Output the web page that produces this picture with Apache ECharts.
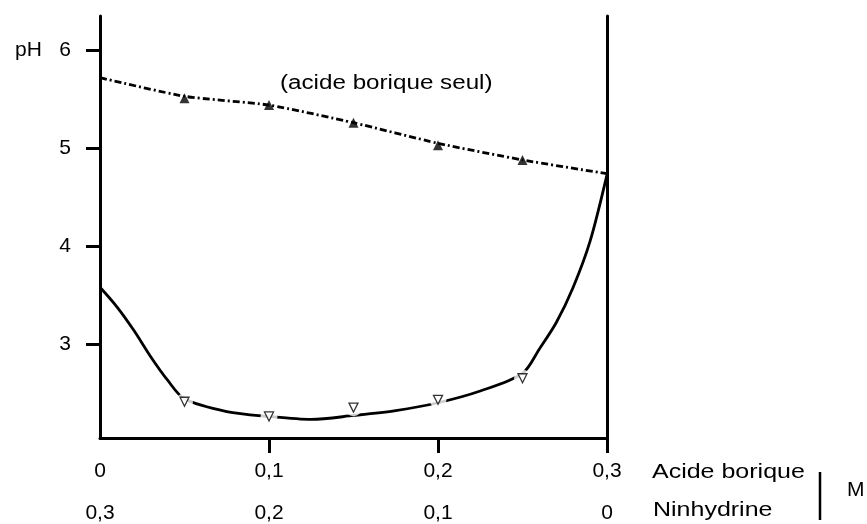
<!DOCTYPE html>
<html>
<head>
<meta charset="utf-8">
<script src="https://cdn.jsdelivr.net/npm/echarts@6/dist/echarts.min.js"></script>
<style>html,body{margin:0;padding:0;background:#fff}#c{width:867px;height:524px}</style>
</head>
<body>
<div id="c"></div>
<script>
// Concentrations (M) of boric acid; ninhydrine = 0.3 - boric acid
const xTicks = [0, 0.1, 0.2, 0.3];
const boricLabels = ['0', '0,1', '0,2', '0,3'];
const ninhydrinLabels = ['0,3', '0,2', '0,1', '0'];
const yTicks = [3, 4, 5, 6];

// Boric acid alone (dashed line + filled triangles)
const aloneLineX = [0, 0.05, 0.1, 0.15, 0.2, 0.25, 0.3];
const aloneLineY = [5.72, 5.53, 5.44, 5.26, 5.05, 4.88, 4.74];
const aloneMarkX = [0.05, 0.1, 0.15, 0.2, 0.25];
const aloneMarkY = [5.51, 5.44, 5.26, 5.03, 4.88];

// Mixture (solid curve + open triangles)
const mixLineX = [0, 0.01, 0.02, 0.03, 0.04, 0.05, 0.075, 0.1, 0.125, 0.15, 0.175, 0.2, 0.225, 0.25, 0.26, 0.27, 0.28, 0.29, 0.3];
const mixLineY = [3.58, 3.38, 3.14, 2.87, 2.63, 2.44, 2.31, 2.26, 2.23, 2.27, 2.32, 2.40, 2.52, 2.70, 2.95, 3.22, 3.58, 4.05, 4.73];
const mixMarkX = [0.05, 0.1, 0.15, 0.2, 0.25];
const mixMarkY = [2.41, 2.26, 2.35, 2.43, 2.65];

const zip = (a, b) => a.map((v, i) => [v, b[i]]);
const FONT = '"Liberation Sans", Arial, Helvetica, sans-serif';

const chart = echarts.init(document.getElementById('c'));
chart.setOption({
  animation: false,
  backgroundColor: '#fff',
  grid: { left: 100, right: 260, top: 16, bottom: 86, containLabel: false },
  xAxis: {
    type: 'value', min: 0, max: 0.3,
    axisLine: { show: true, lineStyle: { color: '#000', width: 3 } },
    axisTick: { show: true, customValues: [0.1, 0.2, 0.3], length: 15, lineStyle: { color: '#000', width: 3 } },
    splitLine: { show: false },
    axisLabel: {
      customValues: xTicks,
      margin: 12,
      formatter: (v) => {
        const i = xTicks.findIndex(t => Math.abs(t - v) < 1e-9);
        return '{a|' + boricLabels[i] + '}\n{a|' + ninhydrinLabels[i] + '}';
      },
      rich: { a: { fontSize: 21, fontFamily: FONT, color: '#000', lineHeight: 42 } }
    }
  },
  yAxis: [{
    type: 'value', min: 2.04, max: 6.35,
    axisLine: { show: true, lineStyle: { color: '#000', width: 3 } },
    axisTick: { show: true, customValues: yTicks, length: 14, lineStyle: { color: '#000', width: 3 } },
    splitLine: { show: false },
    axisLabel: {
      customValues: yTicks,
      margin: 29,
      fontSize: 21, fontFamily: FONT, color: '#000',
      padding: [0, 0, 8, 0],
      formatter: (v) => (v === 6 ? 'pH   6' : String(v))
    }
  }, {
    type: 'value', min: 2.04, max: 6.35, position: 'right',
    axisLine: { show: true, lineStyle: { color: '#000', width: 3 } },
    axisTick: { show: false }, axisLabel: { show: false }, splitLine: { show: false }
  }],
  series: [
    {
      type: 'line', data: zip(aloneLineX, aloneLineY), smooth: 0.2, symbol: 'none', z: 2,
      lineStyle: { color: '#000', width: 2.8, type: [7, 3, 2, 3] }
    },
    {
      type: 'scatter', data: zip(aloneMarkX, aloneMarkY), symbol: 'triangle', symbolSize: 10, z: 4,
      itemStyle: { color: '#000' }
    },
    {
      type: 'line', data: zip(mixLineX, mixLineY), smooth: 0.3, symbol: 'none', z: 2,
      lineStyle: { color: '#000', width: 2.8 }
    },
    {
      type: 'scatter', data: zip(mixMarkX, mixMarkY), symbol: 'circle', symbolSize: 17, z: 3, silent: true,
      itemStyle: { color: '#fff' }
    },
    {
      type: 'scatter', data: zip(mixMarkX, mixMarkY), symbol: 'triangle', symbolRotate: 180, symbolSize: 9, z: 4,
      itemStyle: { color: '#fff', borderColor: '#000', borderWidth: 1.3 }
    }
  ],
  graphic: [
    { type: 'text', x: 280, y: 83, scaleX: 1.21,
      style: { text: '(acide borique seul)', font: '20px ' + FONT, fill: '#000', textVerticalAlign: 'middle' } },
    { type: 'text', x: 652, y: 472, scaleX: 1.19,
      style: { text: 'Acide borique', font: '21px ' + FONT, fill: '#000', textVerticalAlign: 'middle' } },
    { type: 'text', x: 653, y: 510, scaleX: 1.19,
      style: { text: 'Ninhydrine', font: '21px ' + FONT, fill: '#000', textVerticalAlign: 'middle' } },
    { type: 'line', shape: { x1: 820, y1: 472, x2: 820, y2: 520 }, style: { stroke: '#000', lineWidth: 2.5 } },
    { type: 'text', x: 847, y: 490,
      style: { text: 'M', font: '21px ' + FONT, fill: '#000', textVerticalAlign: 'middle' } }
  ]
});
</script>
</body>
</html>
